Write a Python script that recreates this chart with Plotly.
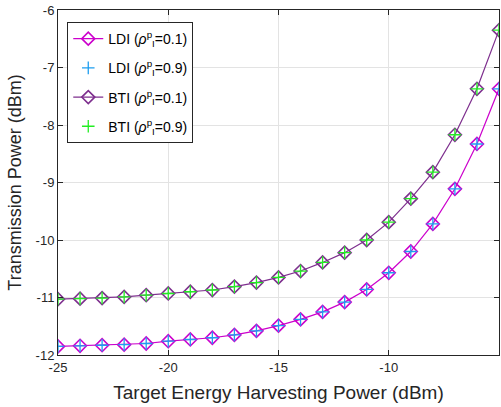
import plotly.graph_objects as go

# Target energy harvesting power (dBm)
eh_power = [-25, -24, -23, -22, -21, -20, -19, -18, -17, -16, -15,
            -14, -13, -12, -11, -10, -9, -8, -7, -6, -5]

# Transmission power (dBm) for each scheme
ldi_01 = [-11.85, -11.84, -11.83, -11.82, -11.80, -11.76, -11.73, -11.70, -11.65, -11.58, -11.49,
          -11.38, -11.25, -11.08, -10.86, -10.57, -10.20, -9.72, -9.11, -8.33, -7.37]
ldi_09 = list(ldi_01)
bti_01 = [-11.03, -11.02, -11.01, -10.99, -10.96, -10.93, -10.90, -10.87, -10.81, -10.74, -10.65,
          -10.54, -10.39, -10.22, -10.00, -9.69, -9.28, -8.82, -8.17, -7.37, -6.35]
bti_09 = list(bti_01)

x_ticks = [-25, -20, -15, -10, -5]
y_ticks = [-12, -11, -10, -9, -8, -7, -6]

rho = "<i>ρ</i><sup>p</sup><sub>I</sub>"

MAGENTA = "#cc00cc"
PURPLE = "#7e2f8e"
BLUE = "#1e9ef0"
GREEN = "#22ee22"
AXIS = "#262626"

fig = go.Figure()
fig.add_trace(go.Scatter(
    x=eh_power, y=ldi_01, mode="lines+markers", name=f"LDI ({rho}=0.1)", legendgroup="a",
    line=dict(color=MAGENTA, width=1.2),
    marker=dict(symbol="diamond-open", size=10, color=MAGENTA, line=dict(width=1.6, color=MAGENTA)),
))
fig.add_trace(go.Scatter(
    x=eh_power, y=ldi_09, mode="markers", name=f"LDI ({rho}=0.9)", legendgroup="b",
    marker=dict(symbol="cross-thin-open", size=9, color=BLUE, line=dict(width=1.3, color=BLUE)),
))
fig.add_trace(go.Scatter(
    x=eh_power, y=bti_01, mode="lines+markers", name=f"BTI ({rho}=0.1)", legendgroup="c",
    line=dict(color=PURPLE, width=1.2),
    marker=dict(symbol="diamond-open", size=10, color=PURPLE, line=dict(width=1.6, color=PURPLE)),
))
fig.add_trace(go.Scatter(
    x=eh_power, y=bti_09, mode="markers", name=f"BTI ({rho}=0.9)", legendgroup="d",
    marker=dict(symbol="cross-thin-open", size=9, color=GREEN, line=dict(width=1.3, color=GREEN)),
))

font_family = "Liberation Sans, Arial, sans-serif"

fig.update_layout(
    width=501, height=407,
    margin=dict(l=58, r=2, t=10, b=52),
    plot_bgcolor="white", paper_bgcolor="white",
    font=dict(family=font_family, color=AXIS, size=13),
    showlegend=True,
    legend=dict(
        x=0.021, y=0.965, xanchor="left", yanchor="top",
        bgcolor="white", bordercolor=AXIS, borderwidth=1,
        font=dict(size=14, color="#000000"),
        traceorder="grouped", tracegroupgap=8,
        itemwidth=30,
    ),
    xaxis=dict(
        range=[-25, -5], tickvals=x_ticks, ticktext=[str(v) for v in x_ticks],
        showgrid=True, gridcolor="#e3e3e3", gridwidth=1,
        showline=True, linecolor=AXIS, linewidth=1, mirror="ticks",
        ticks="inside", ticklen=5, tickcolor=AXIS,
        zeroline=False,
        tickfont=dict(size=13, color=AXIS),
        title=dict(text="Target Energy Harvesting Power (dBm)", font=dict(size=19, color=AXIS), standoff=12),
    ),
    yaxis=dict(
        range=[-12, -6], tickvals=y_ticks, ticktext=[str(v) for v in y_ticks],
        showgrid=True, gridcolor="#e3e3e3", gridwidth=1,
        showline=True, linecolor=AXIS, linewidth=1, mirror="ticks",
        ticks="inside", ticklen=5, tickcolor=AXIS,
        zeroline=False,
        tickfont=dict(size=13, color=AXIS),
        title=dict(text="Transmission Power (dBm)", font=dict(size=18, color=AXIS), standoff=9),
    ),
)

fig.write_html("out.html")
